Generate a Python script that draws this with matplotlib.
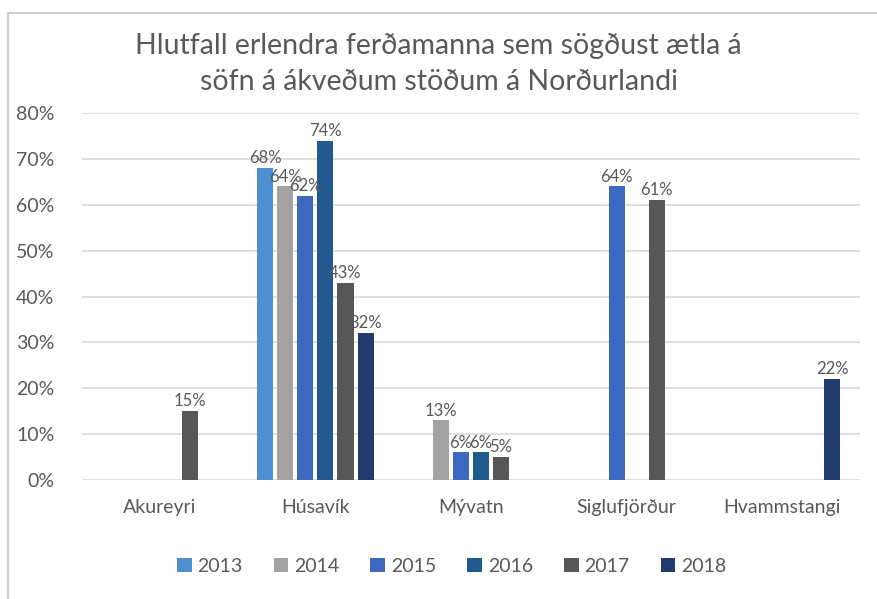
import matplotlib.pyplot as plt
import numpy as np
from matplotlib.patches import Rectangle

places = ['Akureyri', 'Húsavík', 'Mývatn', 'Siglufjörður', 'Hvammstangi']
years = ['2013', '2014', '2015', '2016', '2017', '2018']
nan = np.nan
v2013 = [nan, 68, nan, nan, nan]
v2014 = [nan, 64, 13, nan, nan]
v2015 = [nan, 62, 6, 64, nan]
v2016 = [nan, 74, 6, nan, nan]
v2017 = [15, 43, 5, 61, nan]
v2018 = [nan, 32, nan, nan, 22]
colors = ['#4E8FD2', '#A3A3A3', '#3D68C0', '#22598E', '#575757', '#223B6E']

title = 'Hlutfall erlendra ferðamanna sem sögðust ætla á\nsöfn á ákveðum stöðum á Norðurlandi'

plt.rcParams['font.family'] = ['Lato', 'DejaVu Sans']
txt = '#595959'

fig = plt.figure(figsize=(8.77, 5.99), dpi=100)
fig.patches.append(Rectangle((8/877, -0.1), 1.2, 1 - 13/599 + 0.1, transform=fig.transFigure,
                             fill=False, edgecolor='#d0d0d0', linewidth=1.5))
ax = fig.add_axes([82/877, 1 - 480/599, 778/877, 367/599])

x = np.arange(len(places))
slot = 0.129
width = 0.103
series = [v2013, v2014, v2015, v2016, v2017, v2018]
for i, (yr, vals, c) in enumerate(zip(years, series, colors)):
    vals = np.array(vals, dtype=float) / 100
    pos = x + (i - 2.5) * slot
    ax.bar(pos, np.nan_to_num(vals), width, color=c, label=yr, zorder=3)
    for p, v in zip(pos, vals):
        if not np.isnan(v):
            ax.text(p, v + 0.004, f'{v*100:.0f}%', ha='center', va='bottom',
                    fontsize=12, color=txt, zorder=4)

ax.set_xlim(-0.5, 4.5)
ax.set_ylim(0, 0.8)
ax.set_yticks(np.arange(0, 0.81, 0.1))
ax.set_yticklabels([f'{t}%' for t in range(0, 81, 10)])
ax.set_xticks(x)
ax.set_xticklabels(places)
ax.tick_params(axis='y', length=0, pad=20, labelsize=14, labelcolor=txt)
ax.tick_params(axis='x', length=0, pad=14, labelsize=14, labelcolor=txt)
ax.grid(axis='y', color='#d9d9d9', linewidth=1.2, zorder=0)
for s in ax.spines.values():
    s.set_visible(False)

fig.text(0.5, 1 - 64/599, title, ha='center', va='center', fontsize=20.5,
         color=txt, linespacing=1.5)

fig.legend(loc='center', bbox_to_anchor=(0.515, 1 - 566/599), ncol=6, frameon=False,
           fontsize=14, handlelength=0.75, handleheight=0.75, handletextpad=0.3,
           columnspacing=1.6, labelcolor=txt)

fig.savefig('out.png', dpi=100)
